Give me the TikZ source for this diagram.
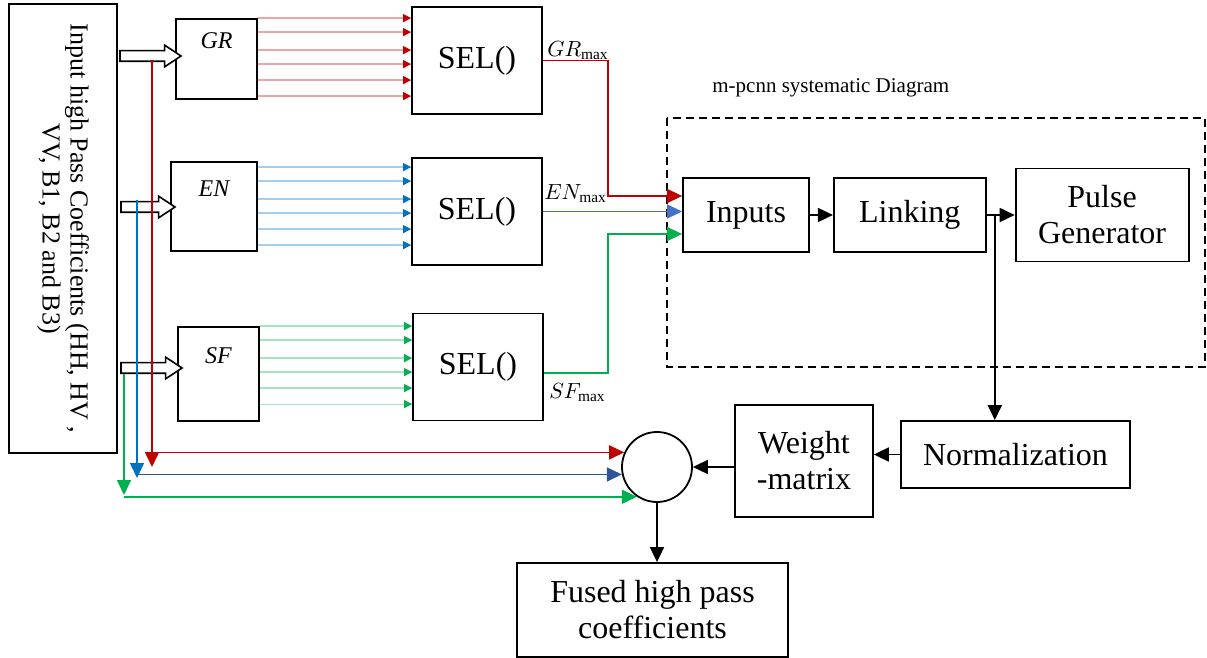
\documentclass[tikz,border=0pt]{standalone}
\usepackage{fontspec}
\setmainfont{Liberation Serif}
\usetikzlibrary{arrows.meta, positioning, calc, shapes.arrows}
\definecolor{wirered}{HTML}{C00000}
\definecolor{wireblue}{HTML}{0070C0}
\definecolor{navyblue}{HTML}{2F5597}
\definecolor{steelblue}{HTML}{4472C4}
\definecolor{wiregreen}{HTML}{00B050}

\begin{document}
\begin{tikzpicture}[
    x=0.5pt, y=-0.5pt,
    blocknode/.style={draw, line width=0.9pt, align=center, inner sep=0pt,
                      font=\fontsize{16}{18}\selectfont},
    funcnode/.style={draw, line width=0.9pt, inner sep=0pt, font=\fontsize{12}{14}\selectfont\itshape,
                     text height=8pt, text depth=18pt},
    selnode/.style={blocknode, minimum width=65pt, minimum height=53.5pt},
    feed/.style={single arrow, draw, line width=0.8pt, fill=white, inner xsep=0pt, inner ysep=2.25pt,
                 single arrow head extend=2.75pt, single arrow tip angle=67},
    maxlabel/.style={inner sep=0pt, font=\fontsize{11}{12}\selectfont},
    conn/.style={-{Triangle[length=7.5pt, width=7pt]}, line width=0.9pt},
    wire/.style={-{Triangle[length=7.5pt, width=7pt]}, line width=0.8pt, #1},
    fan/.style={-{Triangle[length=4pt, width=4pt, color=#1]}, line width=0.6pt, draw=#1!35},
    groupframe/.style={dashed, dash pattern=on 4pt off 2.5pt, line width=0.8pt}
]
    \useasboundingbox (0,0) rectangle (1207,658);

    % input coefficients and the three feature blocks
    \node[draw, line width=0.9pt, rotate=-90, minimum width=224.5pt, minimum height=54pt, align=center,
          font=\fontsize{13}{14}\selectfont] (coef) at (63,228.5)
          {Input high Pass Coefficients (HH, HV ,\\VV, B1, B2 and B3)};
    \node[funcnode, minimum width=40.5pt, minimum height=40pt] (gr) at (216.5,59) {GR};
    \node[funcnode, minimum width=43pt, minimum height=44.5pt] (en) at (214,206.5) {EN};
    \node[funcnode, minimum width=40.5pt, minimum height=47pt] (sf) at (218.5,374) {SF};

    \node[feed, minimum height=30.5pt] (grfeed) at (146.5,56) {};
    \node[feed, minimum height=27pt] (enfeed) at (144,207) {};
    \node[feed, minimum height=30.5pt] (sffeed) at (147.5,368) {};

    \node[selnode] (sel1) at (477,60.5) {SEL()};
    \node[selnode] (sel2) at (477,211.5) {SEL()};
    \node[selnode] (sel3) at (478,367) {SEL()};

    % m-pcnn part
    \draw[groupframe] (667,118) rectangle (1205,367);
    \node[anchor=base west, inner sep=0pt, font=\fontsize{10.5}{12}\selectfont] (title) at (712,93)
          {m-pcnn systematic Diagram};
    \node[blocknode, minimum width=63pt, minimum height=37pt] (inputs) at (746,215) {Inputs};
    \node[blocknode, minimum width=76pt, minimum height=37pt, right=11.5pt of inputs] (linking) {Linking};
    \node[blocknode, minimum width=86.5pt, minimum height=46.5pt, right=14pt of linking] (pulse) {Pulse\\Generator};

    \node[blocknode, minimum width=114.5pt, minimum height=33.5pt] (norm) at (1015.5,454.5) {Normalization};
    \node[blocknode, minimum width=69pt, minimum height=56pt] (weight) at (804,461) {Weight\\-matrix};
    \node[circle, draw, line width=0.9pt, minimum size=35pt, inner sep=0pt] (sum) at (657,467) {};
    \node[blocknode, minimum width=135.5pt, minimum height=47pt] (fused) at (652.5,610) {Fused high pass\\coefficients};

    % six coefficient lines into every selector
    \foreach \blk/\sel/\col/\top in {gr/sel1/wirered/0, en/sel2/wireblue/3, sf/sel3/wiregreen/0}
        \foreach \dy in {0,7,16,23,31,39}
            \draw[fan=\col] ([yshift={-(\top+\dy)*1pt}]\blk.north east) coordinate (tmp) -- (tmp -| \sel.west);

    % selector outputs
    \draw[wire=wirered] (sel1.east) -- ++(65,0) |- ([yshift=9.5pt]inputs.west);
    \draw[wire=steelblue] (sel2.east) -- (sel2.east -| inputs.west);
    \draw[wire=wiregreen] ([yshift=-3pt]sel3.east) -- ++(64,0) |- ([yshift=-9.5pt]inputs.west);
    \node[maxlabel, anchor=south west] (grmax) at ([xshift=2pt]sel1.east) {$GR_{\max}$};
    \node[maxlabel, anchor=south west] (enmax) at ([xshift=0.5pt, yshift=4pt]sel2.east) {$EN_{\max}$};
    \node[maxlabel, anchor=north west] (sfmax) at ([xshift=2.5pt, yshift=-8pt]sel3.east) {$SF_{\max}$};

    \draw[conn] (inputs) -- (linking);
    \draw[conn] (linking) -- (pulse);
    \coordinate (tap) at ($(linking.east)!0.29!(pulse.west)$);
    \draw[conn] (tap) -- (tap |- norm.north);
    \draw[conn] (norm.west) -- (norm.west -| weight.east);
    \draw[conn] (weight.west |- sum.east) -- (sum.east);
    \draw[conn] (sum.south) -- (sum.south |- fused.north);

    % direct coefficients down to the fusion node
    \coordinate (grtap) at (152,60);
    \coordinate (grdrop) at (152,467);
    \coordinate (entap) at (137,200);
    \coordinate (endrop) at (137,478);
    \coordinate (sftap) at (124,374);
    \coordinate (sfdrop) at (124,495);
    \draw[wire=wirered] (grtap) -- (grdrop);
    \draw[wire=wirered] (grtap |- sum.156) -- (sum.156);
    \draw[wire=wireblue] (entap) -- (endrop);
    \draw[wire=navyblue] (entap |- sum.192) -- (sum.192);
    \draw[wire=wiregreen] (sftap) -- (sfdrop);
    \draw[wire=wiregreen] (sftap |- sum.236) -- (sum.236);
\end{tikzpicture}
\end{document}
